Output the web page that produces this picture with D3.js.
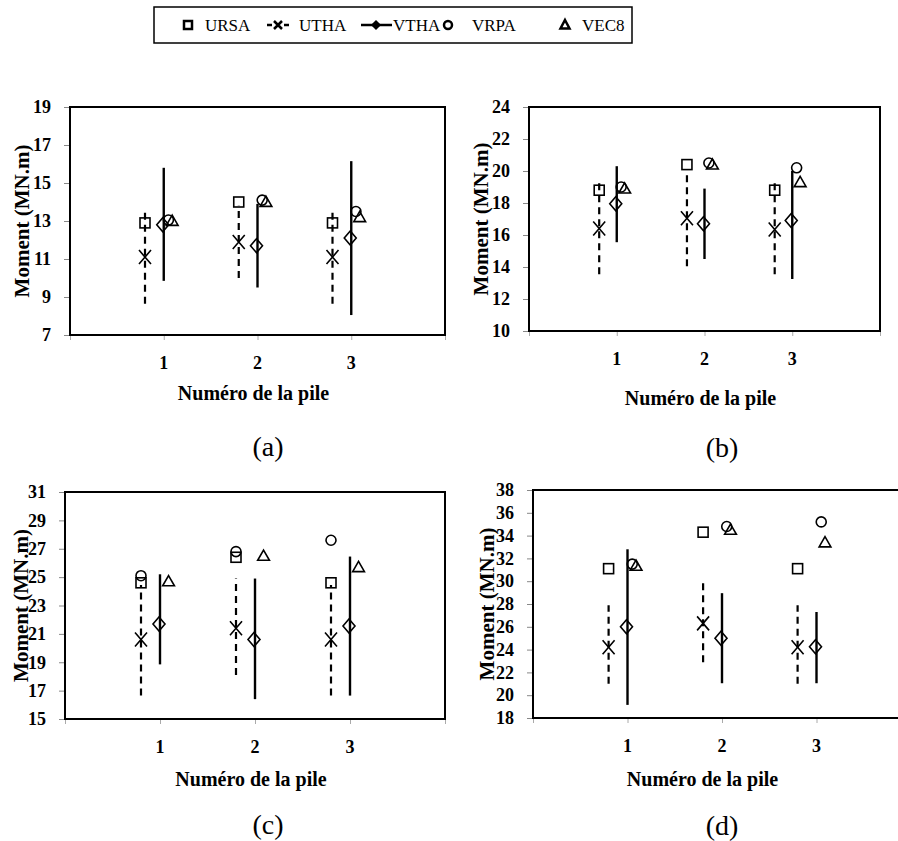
<!DOCTYPE html>
<html>
<head>
<meta charset="utf-8">
<script src="https://cdn.jsdelivr.net/npm/d3@7"></script>
<style>
  body { margin: 0; background: #fff; }
  svg text { font-family: "Liberation Serif", "Times New Roman", serif; }
</style>
</head>
<body>
<script>
// piles on the x axis, one panel per case (a)-(d)
var piles = [1, 2, 3];
var panelLabels = ["(a)", "(b)", "(c)", "(d)"];
var yDomains = [[7, 19], [10, 24], [15, 31], [18, 38]];

// values per panel, per pile (MN.m)
var ursa = [[12.9, 14.0, 12.9], [18.8, 20.4, 18.8], [24.6, 26.4, 24.6], [31.1, 34.3, 31.1]];
var utha = [[11.1, 11.9, 11.1], [16.4, 17.05, 16.35], [20.6, 21.4, 20.6], [24.2, 26.3, 24.2]];
var uthaLow = [[8.65, 10.0, 8.65], [13.55, 14.05, 13.55], [16.65, 18.1, 16.65], [21.0, 22.9, 21.0]];
var uthaHigh = [[13.55, 13.8, 13.55], [19.55, 20.0, 19.55], [24.45, 24.9, 24.45], [27.9, 29.9, 27.9]];
var vtha = [[12.8, 11.7, 12.1], [17.95, 16.7, 16.9], [21.7, 20.6, 21.55], [26.0, 25.0, 24.25]];
var vthaLow = [[9.85, 9.5, 8.05], [15.55, 14.5, 13.25], [18.85, 16.4, 16.65], [19.15, 21.05, 21.05]];
var vthaHigh = [[15.8, 13.9, 16.15], [20.3, 18.9, 20.0], [25.2, 24.9, 26.45], [32.8, 28.95, 27.3]];
var vrpa = [[13.05, 14.1, 13.5], [19.0, 20.5, 20.2], [25.1, 26.8, 27.6], [31.5, 34.8, 35.2]];
var vec8 = [[13.0, 14.0, 13.2], [18.9, 20.4, 19.3], [24.7, 26.5, 25.7], [31.35, 34.5, 33.4]];

// horizontal offset of each series from the pile number
var offU = -0.2, offV = 0, offTri = 0.09;
var offCircle = [0.05, 0.05, -0.2, 0.05];

// layout of the four panels
var panels = [
    {x0: 70, y0: 107, x1: 445, y1: 335, titleY: 65, labX: 268, labY: 456, yTitleX: 22},
    {x0: 529, y0: 107, x1: 880, y1: 331, titleY: 74, labX: 722, labY: 457, yTitleX: 481},
    {x0: 65, y0: 492, x1: 445, y1: 719, titleY: 67, labX: 268, labY: 834, yTitleX: 21},
    {x0: 533, y0: 490, x1: 911, y1: 718, titleY: 68, labX: 722, labY: 835, yTitleX: 487}
];

var FONT = "'Liberation Serif', 'Times New Roman', serif";
var svg = d3.select("body").append("svg").attr("width", 898).attr("height", 841)
    .style("display", "block");

function drawMarker(g, type, x, y) {
    if (type == "square") {
        g.append("rect").attr("x", x - 5).attr("y", y - 5).attr("width", 10).attr("height", 10)
            .attr("fill", "none").attr("stroke", "#000").attr("stroke-width", 1.6);
    } else if (type == "circle") {
        g.append("circle").attr("cx", x).attr("cy", y).attr("r", 5)
            .attr("fill", "none").attr("stroke", "#000").attr("stroke-width", 1.6);
    } else if (type == "triangle") {
        g.append("path").attr("d", d3.symbol(d3.symbolTriangle, 60)())
            .attr("transform", "translate(" + x + "," + (y + 1) + ")")
            .attr("fill", "none").attr("stroke", "#000").attr("stroke-width", 1.6);
    } else if (type == "diamond") {
        g.append("path").attr("d", "M0,-7L6,0L0,7L-6,0Z")
            .attr("transform", "translate(" + x + "," + y + ")")
            .attr("fill", "none").attr("stroke", "#000").attr("stroke-width", 1.6);
    } else if (type == "cross") {
        g.append("path").attr("d", "M-6,-7L6,7M-6,7L6,-7")
            .attr("transform", "translate(" + x + "," + y + ")")
            .attr("fill", "none").attr("stroke", "#000").attr("stroke-width", 1.6);
    }
}

panels.forEach(function(p, k) {
    var x = d3.scaleLinear().domain([0, 4]).range([p.x0, p.x1]);
    var y = d3.scaleLinear().domain(yDomains[k]).range([p.y1, p.y0]);
    var g = svg.append("g");
    var ticks = d3.range(yDomains[k][0], yDomains[k][1] + 0.01, 2);

    // axes
    var ya = g.append("g").attr("transform", "translate(" + p.x0 + ",0)")
        .call(d3.axisLeft(y).tickValues(ticks).tickSize(6).tickPadding(13).tickFormat(d3.format("d")));
    ya.attr("font-family", FONT);
    ya.selectAll("line,path").attr("stroke", "#888");
    ya.selectAll("text").attr("font-size", 18).attr("font-weight", "bold")
        .style("font-family", FONT).attr("fill", "#000");

    var xa = g.append("g").attr("transform", "translate(0," + p.y1 + ")")
        .call(d3.axisBottom(x).tickValues([0, 1, 2, 3, 4]).tickSize(5).tickFormat(""));
    xa.selectAll("line,path").attr("stroke", "#aaa");

    g.selectAll(".xl").data(piles).enter().append("text")
        .attr("x", function(d) { return x(d); })
        .attr("y", p.y1 + 34)
        .attr("text-anchor", "middle").attr("font-size", 18).attr("font-weight", "bold")
        .style("font-family", FONT)
        .text(function(d) { return d; });

    // plot area frame
    g.append("rect").attr("x", p.x0).attr("y", p.y0)
        .attr("width", p.x1 - p.x0).attr("height", p.y1 - p.y0)
        .attr("fill", "none").attr("stroke", "#000").attr("stroke-width", 2);

    // UTHA dashed range, VTHA solid range
    piles.forEach(function(pl, i) {
        g.append("line").attr("x1", x(pl + offU)).attr("x2", x(pl + offU))
            .attr("y1", y(uthaLow[k][i])).attr("y2", y(uthaHigh[k][i]))
            .attr("stroke", "#000").attr("stroke-width", 2.2).attr("stroke-dasharray", "7,5");
        g.append("line").attr("x1", x(pl + offV)).attr("x2", x(pl + offV))
            .attr("y1", y(vthaLow[k][i])).attr("y2", y(vthaHigh[k][i]))
            .attr("stroke", "#000").attr("stroke-width", 2.4);
    });
    piles.forEach(function(pl, i) {
        drawMarker(g, "square", x(pl + offU), y(ursa[k][i]));
        drawMarker(g, "cross", x(pl + offU), y(utha[k][i]));
        drawMarker(g, "diamond", x(pl + offV) - 1, y(vtha[k][i]));
        drawMarker(g, "circle", x(pl + offCircle[k]), y(vrpa[k][i]));
        drawMarker(g, "triangle", x(pl + offTri), y(vec8[k][i]));
    });

    // titles
    g.append("text").attr("x", (p.x0 + Math.min(p.x1, 880)) / 2 - 4).attr("y", p.y1 + p.titleY)
        .attr("text-anchor", "middle").attr("font-size", 20).attr("font-weight", "bold")
        .style("font-family", FONT)
        .text("Numéro de la pile");
    g.append("text").attr("transform", "translate(" + (p.yTitleX + 7) + "," + ((p.y0 + p.y1) / 2) + ") rotate(-90)")
        .attr("text-anchor", "middle").attr("font-size", 21).attr("font-weight", "bold")
        .style("font-family", FONT)
        .text("Moment (MN.m)");
    g.append("text").attr("x", p.labX).attr("y", p.labY)
        .attr("text-anchor", "middle").attr("font-size", 28)
        .style("font-family", FONT)
        .text(panelLabels[k]);
});

// legend
var leg = svg.append("g");
leg.append("rect").attr("x", 154).attr("y", 7).attr("width", 478).attr("height", 36)
    .attr("fill", "#fff").attr("stroke", "#000").attr("stroke-width", 1.5);
var legItems = [
    {name: "URSA", type: "square", mx: 188, tx: 205, line: null},
    {name: "UTHA", type: "cross", mx: 278, tx: 299, line: "dash"},
    {name: "VTHA", type: "diamond", mx: 376, tx: 393, line: "solid"},
    {name: "VRPA", type: "circle", mx: 448, tx: 472, line: null},
    {name: "VEC8", type: "triangle", mx: 565, tx: 582, line: null}
];
legItems.forEach(function(it) {
    var gi = leg.append("g");
    if (it.line == "dash") {
        gi.append("line").attr("x1", it.mx - 11).attr("x2", it.mx - 6).attr("y1", 25).attr("y2", 25)
            .attr("stroke", "#000").attr("stroke-width", 2.5);
        gi.append("line").attr("x1", it.mx + 6).attr("x2", it.mx + 11).attr("y1", 25).attr("y2", 25)
            .attr("stroke", "#000").attr("stroke-width", 2.5);
        gi.append("path").attr("d", "M-4,-4L4,4M-4,4L4,-4").attr("transform", "translate(" + it.mx + ",25)")
            .attr("stroke", "#000").attr("stroke-width", 2.5);
    } else if (it.line == "solid") {
        gi.append("line").attr("x1", it.mx - 15).attr("x2", it.mx + 16).attr("y1", 25).attr("y2", 25)
            .attr("stroke", "#000").attr("stroke-width", 2.5);
        gi.append("path").attr("d", "M0,-4L4,0L0,4L-4,0Z").attr("transform", "translate(" + it.mx + ",25)")
            .attr("fill", "#000").attr("stroke", "#000").attr("stroke-width", 1.5);
    } else if (it.type == "square") {
        gi.append("rect").attr("x", it.mx - 4).attr("y", 21).attr("width", 8).attr("height", 8)
            .attr("fill", "none").attr("stroke", "#000").attr("stroke-width", 2.5);
    } else if (it.type == "circle") {
        gi.append("circle").attr("cx", it.mx).attr("cy", 25).attr("r", 4)
            .attr("fill", "none").attr("stroke", "#000").attr("stroke-width", 2.5);
    } else if (it.type == "triangle") {
        gi.append("path").attr("d", "M0,-5L4.5,3.5L-4.5,3.5Z").attr("transform", "translate(" + it.mx + ",25)")
            .attr("fill", "none").attr("stroke", "#000").attr("stroke-width", 2.5);
    }
    gi.append("text").attr("x", it.tx).attr("y", 31).attr("font-size", 17)
        .style("font-family", FONT).text(it.name);
});
</script>
</body>
</html>
